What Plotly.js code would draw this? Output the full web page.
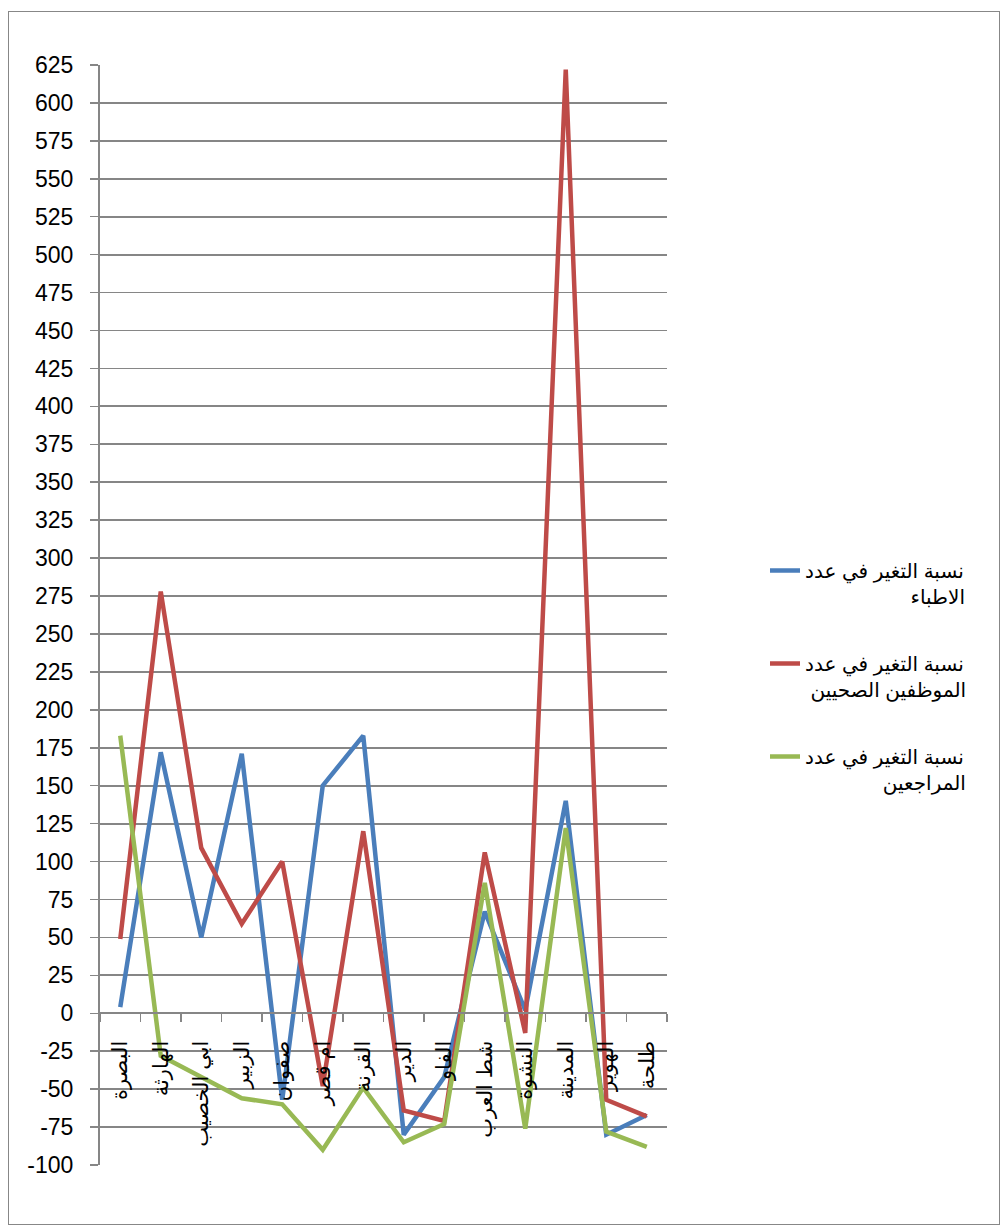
<!DOCTYPE html>
<html>
<head>
<meta charset="utf-8">
<script src="https://cdn.plot.ly/plotly-3.0.1.min.js"></script>
<style>
  html, body { margin: 0; padding: 0; background: #ffffff; }
  #wrap { position: relative; width: 1004px; height: 1231px; }
  #chart { position: absolute; left: 0; top: 0; width: 1004px; height: 1231px; }
  #frame { position: absolute; left: 8px; top: 11px; width: 990px; height: 1212px;
           border: 1.5px solid #878787; pointer-events: none; }
</style>
</head>
<body>
<div id="wrap">
  <div id="chart"></div>
  <div id="frame"></div>
</div>
<script>
// ---- data ----
const categories = ["البصرة", "الهارثة", "ابي الخصيب", "الزبير", "صفوان", "ام قصر", "القرنة",
                    "الدير", "الفاو", "شط العرب", "النشوة", "المدينة", "الهوير", "طلحة"];
const doctorsChange   = [4, 172, 50, 171, -57, 150, 183, -80, -42, 67, 2, 140, -80, -67];
const staffChange     = [49, 278, 109, 59, 100, -48, 120, -64, -71, 106, -13, 622, -57, -68];
const patientsChange  = [183, -28, -42, -56, -60, -90, -49, -85, -73, 86, -76, 122, -78, -88];
const seriesNameLine1 = ["نسبة التغير في عدد", "نسبة التغير في عدد", "نسبة التغير في عدد"];
const seriesNameLine2 = ["الاطباء", "الموظفين الصحيين", "المراجعين"];
const yTickValues = [-100, -75, -50, -25, 0, 25, 50, 75, 100, 125, 150, 175, 200, 225, 250, 275,
                     300, 325, 350, 375, 400, 425, 450, 475, 500, 525, 550, 575, 600, 625];

// ---- styling ----
const colors = ["#4A7EBB", "#BE4B48", "#98B954"];
const legendFontSize = 20;
const legendFontFamily = "Arial, 'Liberation Sans', 'DejaVu Sans', sans-serif";

// right-align the second legend line by left padding with no-break spaces
function padLine(l1, l2) {
  const c = document.createElement("canvas").getContext("2d");
  c.font = legendFontSize + "px " + legendFontFamily;
  const w1 = c.measureText(l1).width, w2 = c.measureText(l2).width;
  const ws = c.measureText("\u00A0").width || 5;
  const n = Math.max(0, Math.round((w1 - w2) / ws));
  return "\u00A0".repeat(n) + l2;
}

const series = [doctorsChange, staffChange, patientsChange];
const traces = series.map((vals, i) => ({
  type: "scatter",
  mode: "lines",
  x: categories,
  y: vals,
  name: seriesNameLine1[i] + "<br>" + padLine(seriesNameLine1[i], seriesNameLine2[i]),
  legendgroup: "g" + i,
  line: { color: colors[i], width: 4.5 },
  hoverinfo: "x+y"
}));

const gridCol = "#868686";
const layout = {
  width: 1004,
  height: 1231,
  margin: { l: 100, r: 337, t: 65, b: 66 },
  paper_bgcolor: "#ffffff",
  plot_bgcolor: "#ffffff",
  showlegend: true,
  font: { family: "Arial, 'Liberation Sans', 'DejaVu Sans', sans-serif", color: "#000000" },
  xaxis: {
    type: "category",
    categoryorder: "array",
    categoryarray: categories,
    anchor: "free",
    position: 100 / 725,
    showline: true,
    linecolor: gridCol,
    linewidth: 2,
    showgrid: false,
    zeroline: false,
    ticks: "outside",
    tickson: "boundaries",
    ticklen: 8,
    tickwidth: 1.5,
    tickcolor: gridCol,
    tickangle: -90,
    ticklabelstandoff: 18,
    tickfont: { size: 21, family: "Arial, 'Liberation Sans', 'DejaVu Sans', sans-serif", color: "#000" },
    range: [-0.5, 13.5],
    fixedrange: true
  },
  yaxis: {
    range: [-100, 625],
    tickmode: "array",
    tickvals: yTickValues,
    ticktext: yTickValues.map(String),
    showline: true,
    linecolor: gridCol,
    linewidth: 2,
    showgrid: true,
    gridcolor: gridCol,
    gridwidth: 1.8,
    zeroline: false,
    ticks: "outside",
    ticklen: 8,
    tickwidth: 1.5,
    tickcolor: gridCol,
    ticklabelstandoff: 12,
    tickfont: { size: 23, family: "'Liberation Sans', Arial, sans-serif", color: "#000" },
    fixedrange: true
  },
  legend: {
    x: (765 - 100) / 567,
    xanchor: "left",
    y: (1166 - 552) / 1100,
    yanchor: "top",
    valign: "top",
    tracegroupgap: 38,
    bgcolor: "rgba(0,0,0,0)",
    font: { size: legendFontSize, family: legendFontFamily, color: "#000" }
  }
};

Plotly.newPlot("chart", traces, layout, { displayModeBar: false, staticPlot: true });
</script>
</body>
</html>
